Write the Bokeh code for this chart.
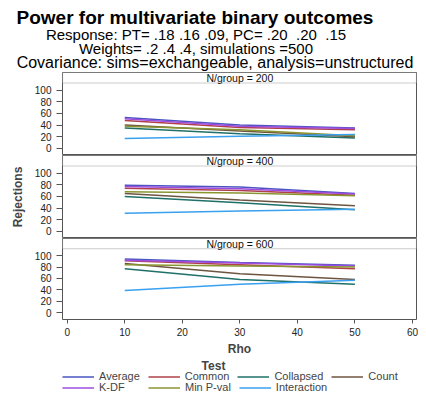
from bokeh.plotting import figure
from bokeh.layouts import column
from bokeh.models import Range1d, FixedTicker, BoxAnnotation, Label, Legend, LegendItem, Div
from bokeh.embed import file_html
from bokeh.resources import INLINE

# ---------------- data ----------------
rho = [10, 30, 50]
n_per_group = [200, 400, 600]
tests = ["Average", "Common", "Collapsed", "Count", "K-DF", "Min P-val", "Interaction"]
# rejections per test: one list per N/group panel (200, 400, 600), values at rho = 10, 30, 50
average = [[53, 40, 35], [79, 76, 65], [94, 88, 83]]
common = [[48, 36, 32], [74, 70, 62], [91, 84, 77]]
collapsed = [[35, 25, 18], [60, 49, 37], [77, 58, 50]]
count = [[40, 30, 20], [65, 54, 44], [86, 68, 58]]
k_df = [[51, 38, 34], [77, 73, 64], [92, 87, 82]]
min_p_val = [[38, 32, 22], [68, 66, 61], [84, 82, 80]]
interaction = [[17, 21, 24], [31, 35, 38], [39, 50, 57]]
y_ticks = [0, 20, 40, 60, 80, 100]
x_ticks = [0, 10, 20, 30, 40, 50, 60]

title_lines = [
    "Power for multivariate binary outcomes",
    "Response: PT= .18 .16 .09, PC= .20  .20  .15",
    "Weights= .2 .4 .4, simulations =500",
    "Covariance: sims=exchangeable, analysis=unstructured",
]

series = [average, common, collapsed, count, k_df, min_p_val, interaction]
colors = ["#4a55c0", "#b0404a", "#1f7068", "#6e5540", "#9d4ce0", "#8a9530", "#3aa0f0"]

FONT = "Liberation Sans"
FRAME = "#555555"

# ---------------- titles ----------------
# (centre box width, font size, weight, line height)
line_styles = [(390, 19, "bold", 21), (392, 15, "normal", 14),
               (392, 15, "normal", 14), (430, 16, "normal", 14)]
html = ['<div style="font-family:\'Liberation Sans\',Arial,sans-serif;color:#000;padding-top:7px;">']
for txt, (w, fs, fw, lh) in zip(title_lines, line_styles):
    html.append(
        f'<div style="width:{w}px;text-align:center;font-size:{fs}px;font-weight:{fw};'
        f'line-height:{lh}px;height:{lh}px;white-space:pre;">{txt}</div>')
html.append('</div>')
titles = Div(text="".join(html), width=426, height=72, margin=0)


def make_panel(idx, height, border_bottom, show_x):
    p = figure(width=418, height=height,
               x_range=Range1d(-0.82, 60.7), y_range=Range1d(-12, 130),
               output_backend="svg", toolbar_location=None, title=None,
               min_border_left=62, min_border_right=2,
               min_border_top=0, min_border_bottom=border_bottom,
               x_axis_location="below" if show_x else None)
    p.grid.visible = False
    p.outline_line_color = FRAME
    p.outline_line_width = 1
    p.background_fill_color = "white"
    p.border_fill_color = "white"

    ya = p.yaxis[0]
    ya.ticker = FixedTicker(ticks=y_ticks)
    ya.axis_line_color = None
    ya.major_tick_line_color = FRAME
    ya.major_tick_out = 6
    ya.major_tick_in = 0
    ya.minor_tick_line_color = None
    ya.major_label_standoff = 5
    ya.major_label_text_font = FONT
    ya.major_label_text_font_size = "10px"
    ya.major_label_text_color = "#222222"

    if show_x:
        xa = p.xaxis[0]
        xa.ticker = FixedTicker(ticks=x_ticks)
        xa.axis_line_color = None
        xa.major_tick_line_color = FRAME
        xa.major_tick_out = 4
        xa.major_tick_in = 0
        xa.minor_tick_line_color = None
        xa.major_label_standoff = 4
        xa.major_label_text_font = FONT
        xa.major_label_text_font_size = "10px"
        xa.major_label_text_color = "#222222"
        xa.axis_label = "Rho"
        xa.axis_label_text_font = FONT
        xa.axis_label_text_font_style = "bold"
        xa.axis_label_text_font_size = "12px"
        xa.axis_label_standoff = 3

    for s, c in zip(series, colors):
        p.line(rho, s[idx], line_color=c, line_width=1.5)

    p.add_layout(BoxAnnotation(bottom=112, fill_color="white", fill_alpha=1,
                               line_color=FRAME, line_width=1.2))
    p.add_layout(Label(x=30, y=121, text=f"N/group = {n_per_group[idx]}",
                       text_align="center", text_baseline="middle",
                       text_font=FONT, text_font_size="10.5px", text_color="#111111"))
    return p


p1 = make_panel(0, 83, 0, False)
p2 = make_panel(1, 83, 0, False)
p3 = make_panel(2, 120, 38, True)

p2.yaxis[0].axis_label = "Rejections"
p2.yaxis[0].axis_label_text_font = FONT
p2.yaxis[0].axis_label_text_font_style = "bold"
p2.yaxis[0].axis_label_text_font_size = "12px"
p2.yaxis[0].axis_label_standoff = 7

# ---------------- legend strip ----------------
pl = figure(width=418, height=41, x_range=Range1d(0, 1), y_range=Range1d(0, 1),
            output_backend="svg", toolbar_location=None, title=None,
            min_border_left=62, min_border_right=2, min_border_top=0, min_border_bottom=0,
            x_axis_location=None, y_axis_location=None)
pl.grid.visible = False
pl.outline_line_color = None
pl.border_fill_color = "white"
# legend keys (the series are not shown in this strip, only their keys)
keys = [pl.line(rho, s[2], line_color=c, line_width=1.5, visible=False)
        for s, c in zip(series, colors)]

pl.add_layout(Label(x=151, y=34, x_units="screen", y_units="screen", text="Test",
                    text_align="center", text_baseline="middle", text_font=FONT,
                    text_font_size="12px", text_font_style="bold"))


def make_legend(ks, lw, vy):
    return Legend(items=[LegendItem(label=tests[k], renderers=[keys[k]]) for k in ks],
                  location=(0, vy), orientation="horizontal", padding=0, margin=0,
                  spacing=8, glyph_width=32, glyph_height=11, label_height=11,
                  label_width=lw, label_standoff=5, border_line_color=None,
                  background_fill_alpha=0, label_text_font=FONT,
                  label_text_font_size="11px", label_text_baseline="middle")


pl.add_layout(make_legend([0, 1, 2, 3], 20, 17))
pl.add_layout(make_legend([4, 5, 6], 41, 6))

layout = column(titles, p1, p2, p3, pl, spacing=0)
open("out.html", "w").write(file_html(layout, INLINE))
